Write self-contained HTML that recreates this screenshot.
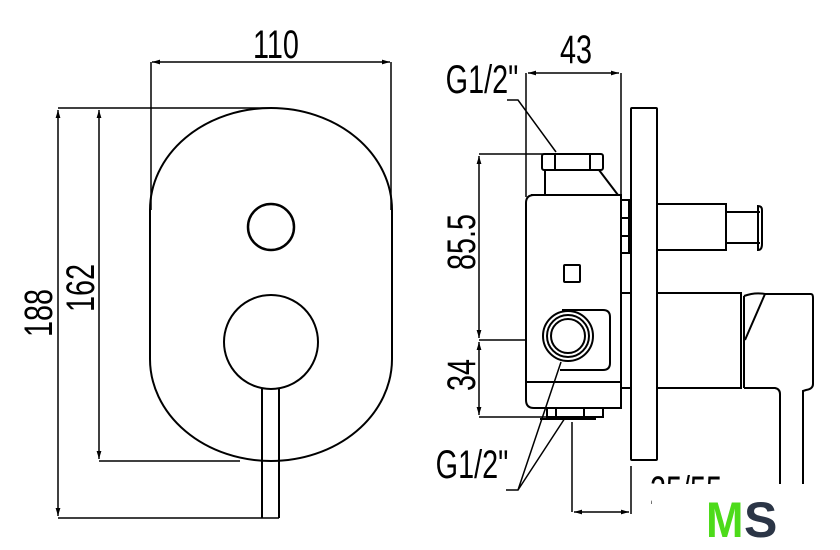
<!DOCTYPE html>
<html><head><meta charset="utf-8"><style>
html,body{margin:0;padding:0;background:#fff;}
svg{display:block}
text{font-family:"Liberation Sans",sans-serif;fill:#000;}
</style></head><body>
<svg width="840" height="550" viewBox="0 0 840 550" xmlns="http://www.w3.org/2000/svg">
<defs>
<marker id="a" viewBox="0 0 10 10" refX="10" refY="5" markerWidth="10" markerHeight="8" orient="auto-start-reverse" markerUnits="userSpaceOnUse"><path d="M0,2 L10,5 L0,8 Z" fill="#000"/></marker>
</defs>
<g fill="none" stroke="#000" stroke-width="2">
<path d="M150,210 A121,102 0 0 1 392,210 L392,359 A121,102 0 0 1 150,359 Z"/>
<circle cx="271" cy="227" r="23" stroke-width="2.5"/>
<circle cx="271" cy="342" r="47"/>
<path d="M262,389 L262,518 M279,389 L279,518"/>
<line x1="152" y1="62" x2="390" y2="62" marker-start="url(#a)" marker-end="url(#a)" stroke-width="1.5"/>
<path d="M151,62 L151,210 M391,62 L391,210" stroke-width="1.5"/>
<line x1="58" y1="110" x2="58" y2="516" marker-start="url(#a)" marker-end="url(#a)" stroke-width="1.5"/>
<path d="M58,108 L270,108 M58,518 L279,518" stroke-width="1.5"/>
<line x1="99" y1="110" x2="99" y2="459" marker-start="url(#a)" marker-end="url(#a)" stroke-width="1.5"/>
<path d="M99,461 L240,461" stroke-width="1.5"/>

<rect x="631" y="108" width="26" height="352" rx="1"/>
<path d="M531,195 L621,195 L621,408 L534,408 Q526,408 526,400 L526,203 Q526,195 534,195 Z"/>
<path d="M526,382 L621,382"/>
<rect x="542" y="154" width="61" height="16" rx="2"/>
<path d="M555,154 L555,170 M590,154 L590,170"/>
<path d="M545,170 L545,195 M599,170 L618,195"/>
<rect x="564" y="265" width="16" height="17" rx="1"/>
<path d="M562,310 L603,310 Q610,310 610,317 L610,363 Q610,370 603,370 L560,370"/>
<circle cx="568" cy="336" r="25"/>
<circle cx="568" cy="336" r="21"/>
<circle cx="568" cy="336" r="17"/>
<rect x="547" y="408" width="56" height="9"/>
<path d="M556,408 L556,417 M584,408 L584,417 M540,419 L596,419"/>
<rect x="621" y="200" width="8" height="53"/>
<path d="M621,218 L629,218 M621,236 L629,236"/>
<path d="M657,204 L726,204 L726,250 L657,250"/>
<path d="M726,212 L760,212 M726,243 L760,243"/>
<path d="M758,206 Q762,206 762,210 L762,244 Q762,250 758,250 Z"/>
<path d="M621,293 L631,293 M621,388 L631,388"/>
<path d="M657,293 L741,293 L741,388 L657,388"/>
<path d="M744,296 L744,388 M744,296 Q755,292 765,294 M765,294 L745,340"/>
<path d="M765,294 L811,294 Q813,294 813,298 L813,384 Q813,389 806,390 L803,391 L803,484"/>
<path d="M744,388 L775,388 Q780,389 780,394 L780,484"/>
<line x1="528" y1="73" x2="619" y2="73" marker-start="url(#a)" marker-end="url(#a)" stroke-width="1.5"/>
<path d="M526,73 L526,197 M621,73 L621,200" stroke-width="1.5"/>
<line x1="479" y1="156" x2="479" y2="338" marker-start="url(#a)" marker-end="url(#a)" stroke-width="1.5"/>
<path d="M479,154 L545,154 M479,340 L526,340" stroke-width="1.5"/>
<line x1="479" y1="342" x2="479" y2="415" marker-start="url(#a)" marker-end="url(#a)" stroke-width="1.5"/>
<path d="M479,417 L548,417" stroke-width="1.5"/>
<path d="M507,100 L518,100 L556,152" stroke-width="1.5"/>
<path d="M506,490 L518,490 L561,362 M518,490 L565,418" stroke-width="1.5"/>
<line x1="574" y1="512" x2="629" y2="512" marker-start="url(#a)" marker-end="url(#a)" stroke-width="1.5"/>
<path d="M572,422 L572,512 M631,466 L631,514" stroke-width="1.5"/>
</g>
<g font-size="40">
<text transform="translate(276,58) scale(0.72,1)" text-anchor="middle">110</text>
<text transform="translate(52,313) rotate(-90) scale(0.72,1)" text-anchor="middle">188</text>
<text transform="translate(94,288) rotate(-90) scale(0.72,1)" text-anchor="middle">162</text>
<text transform="translate(576,63) scale(0.72,1)" text-anchor="middle">43</text>
<text transform="translate(475,242) rotate(-90) scale(0.72,1)" text-anchor="middle">85.5</text>
<text transform="translate(475,375) rotate(-90) scale(0.72,1)" text-anchor="middle">34</text>
<text transform="translate(482,93) scale(0.72,1)" text-anchor="middle">G1/2"</text>
<text transform="translate(472,478) scale(0.72,1)" text-anchor="middle">G1/2"</text>
<text transform="translate(686,504) scale(0.72,1)" text-anchor="middle">25/55</text>
</g>
<rect x="652" y="484" width="188" height="66" fill="#fff"/>
<text x="706" y="537" font-size="50" font-weight="bold" style="fill:#4ddb1a" transform="translate(706,0) scale(0.9,1) translate(-706,0)">M</text>
<text x="744" y="537" font-size="50" font-weight="bold" style="fill:#2b3546">S</text>
</svg>
</body></html>
